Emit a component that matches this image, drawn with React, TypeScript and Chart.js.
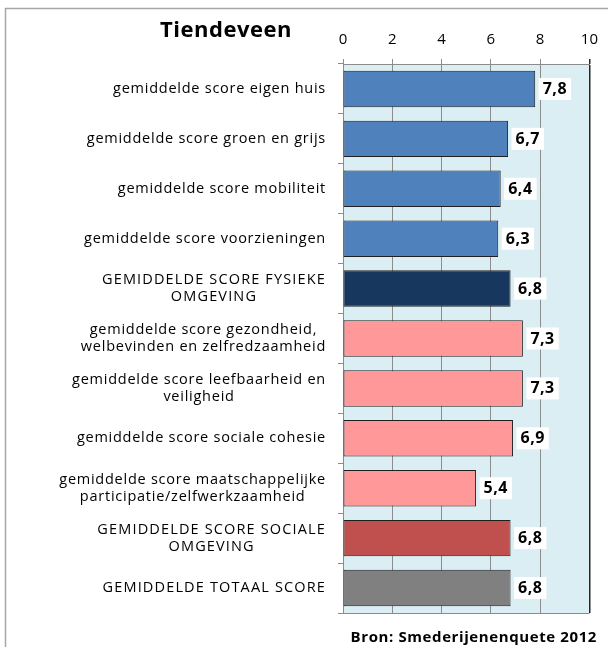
import React, { useEffect, useRef } from "react";
import { Chart, registerables } from "chart.js";

Chart.register(...registerables);

const categories: (string | string[])[] = [
  "gemiddelde score eigen huis",
  "gemiddelde score groen en grijs",
  "gemiddelde score mobiliteit",
  "gemiddelde score voorzieningen",
  ["GEMIDDELDE SCORE FYSIEKE", "OMGEVING"],
  ["gemiddelde score gezondheid,", "welbevinden en zelfredzaamheid"],
  ["gemiddelde score leefbaarheid en", "veiligheid"],
  "gemiddelde score sociale cohesie",
  ["gemiddelde score maatschappelijke", "participatie/zelfwerkzaamheid"],
  ["GEMIDDELDE SCORE SOCIALE", "OMGEVING"],
  "GEMIDDELDE TOTAAL SCORE",
];

const values: number[] = [7.8, 6.7, 6.4, 6.3, 6.8, 7.3, 7.3, 6.9, 5.4, 6.8, 6.8];

const barColors: string[] = [
  "#4F81BD",
  "#4F81BD",
  "#4F81BD",
  "#4F81BD",
  "#17375E",
  "#FF9999",
  "#FF9999",
  "#FF9999",
  "#FF9999",
  "#C0504D",
  "#808080",
];

const xMin = 0;
const xMax = 10;
const xStep = 2;

const titleText = "Tiendeveen";
const sourceText = "Bron: Smederijenenquete 2012";

const FONT = "'Open Sans', 'Noto Sans', sans-serif";
const LABEL_RIGHT = 326;
const LINE_H = 17;

const fmt = (v: number) => v.toFixed(1).replace(".", ",");

export default function App() {
  const ref = useRef<HTMLCanvasElement>(null);

  useEffect(() => {
    const canvas = ref.current;
    if (!canvas) return;

    const decor = {
      id: "decor",
      beforeDraw(chart: any) {
        const { ctx, chartArea: a } = chart;
        ctx.save();
        ctx.fillStyle = "#DBEEF4";
        ctx.fillRect(a.left, a.top, a.right - a.left, a.bottom - a.top);
        ctx.strokeStyle = "#a6a6a6";
        ctx.lineWidth = 1.5;
        ctx.beginPath();
        ctx.moveTo(5.5, 647);
        ctx.lineTo(5.5, 8.5);
        ctx.lineTo(608, 8.5);
        ctx.stroke();
        ctx.restore();
      },
      afterDatasetsDraw(chart: any) {
        const { ctx } = chart;
        const meta = chart.getDatasetMeta(0);
        ctx.save();
        ctx.font = `bold 16px ${FONT}`;
        (ctx as any).letterSpacing = "0.5px";
        ctx.textBaseline = "middle";
        ctx.textAlign = "left";
        meta.data.forEach((bar: any, i: number) => {
          const txt = fmt(values[i]);
          const w = ctx.measureText(txt).width;
          const bx = bar.x + 3.5;
          const bw = w + 8;
          const bh = 22;
          ctx.fillStyle = "#ffffff";
          ctx.fillRect(bx, bar.y - bh / 2, bw, bh);
          ctx.fillStyle = "#000000";
          ctx.fillText(txt, bx + 4, bar.y + 0.5);
        });
        ctx.restore();
      },
      afterDraw(chart: any) {
        const { ctx, chartArea: a } = chart;
        const ys = chart.scales.y;
        ctx.save();
        ctx.strokeStyle = "#8c8c8c";
        ctx.lineWidth = 1;
        ctx.beginPath();
        ctx.moveTo(a.left, Math.round(a.bottom) + 0.5);
        ctx.lineTo(a.right, Math.round(a.bottom) + 0.5);
        ctx.stroke();

        ctx.font = `14.5px ${FONT}`;
        ctx.fillStyle = "#000000";
        ctx.textAlign = "center";
        ctx.textBaseline = "middle";
        const spacingFor = (l: string) => (l === l.toUpperCase() ? "1.15px" : "0.75px");
        categories.forEach((lab, i) => {
          const lines = Array.isArray(lab) ? lab : [lab];
          const w = Math.max(
            ...lines.map((l) => {
              (ctx as any).letterSpacing = spacingFor(l);
              return ctx.measureText(l).width;
            })
          );
          const cx = LABEL_RIGHT - w / 2;
          const y = ys.getPixelForValue(i);
          lines.forEach((l, j) => {
            (ctx as any).letterSpacing = spacingFor(l);
            ctx.fillText(l, cx, y + (j - (lines.length - 1) / 2) * LINE_H);
          });
        });

        (ctx as any).letterSpacing = "0.5px";
        ctx.font = `bold 22px ${FONT}`;
        ctx.textAlign = "center";
        ctx.textBaseline = "alphabetic";
        ctx.fillText(titleText, 226, 37);

        (ctx as any).letterSpacing = "0.6px";
        ctx.font = `bold 15px ${FONT}`;
        ctx.textAlign = "right";
        ctx.fillText(sourceText, 597, 642);
        ctx.restore();
      },
    };

    const chart = new Chart(canvas, {
      type: "bar",
      data: {
        labels: categories as any,
        datasets: [
          {
            data: values,
            backgroundColor: barColors,
            borderColor: "#1f1f1f",
            borderWidth: 1,
            borderSkipped: false,
            barPercentage: 0.73,
            categoryPercentage: 1,
          },
        ],
      },
      options: {
        indexAxis: "y",
        responsive: true,
        maintainAspectRatio: false,
        animation: false,
        layout: { padding: { left: 0, right: 18, top: 0, bottom: 34 } },
        plugins: {
          legend: { display: false },
          tooltip: { enabled: false },
        },
        scales: {
          x: {
            position: "top",
            min: xMin,
            max: xMax,
            ticks: {
              stepSize: xStep,
              color: "#000000",
              font: { family: FONT, size: 15 },
              padding: 10,
            },
            grid: {
              color: (c: any) => (c.tick && c.tick.value === xMax ? "#262626" : "#8c8c8c"),
              lineWidth: (c: any) => (c.tick && c.tick.value === xMax ? 1.5 : 1),
              tickLength: 5,
            },
            border: { color: "#8c8c8c" },
            afterFit: (s: any) => {
              s.height = 64;
            },
          },
          y: {
            ticks: { display: false },
            grid: {
              drawOnChartArea: false,
              tickLength: 5,
              color: "#8c8c8c",
              offset: true,
            },
            border: { color: "#8c8c8c" },
            afterFit: (s: any) => {
              s.width = 343;
            },
          },
        },
      } as any,
      plugins: [decor],
    });

    return () => chart.destroy();
  }, []);

  return (
    <div style={{ position: "fixed", left: 0, top: 0, width: 608, height: 647, background: "#fff" }}>
      <canvas ref={ref} />
    </div>
  );
}
